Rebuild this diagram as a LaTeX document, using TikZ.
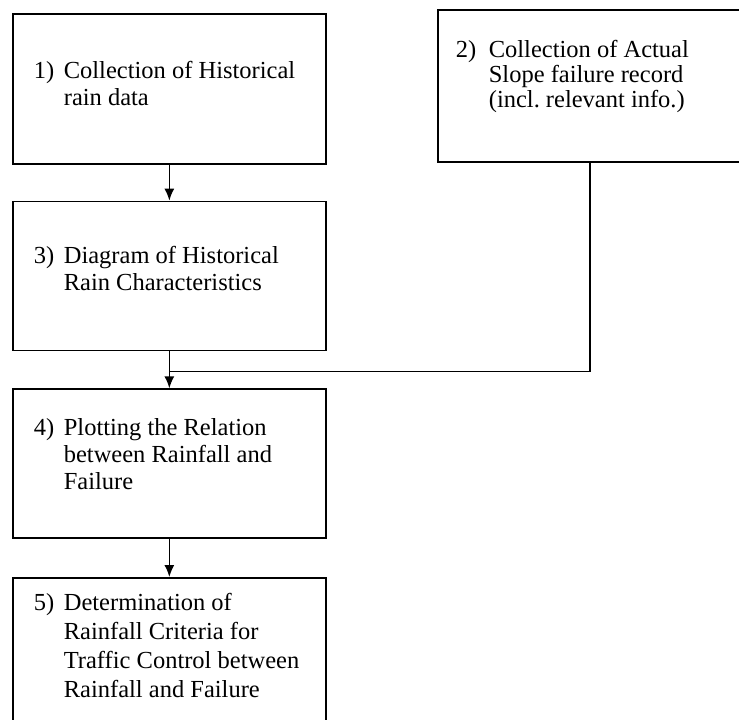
\documentclass[tikz,border=0pt]{standalone}
\usepackage{fontspec}
\setmainfont{Liberation Serif}
\usetikzlibrary{positioning,arrows.meta,calc}
\frenchspacing
\newcommand\steplabel[3][30pt]{\parbox[t]{290pt}{\hangindent=#1\hangafter=1\noindent\makebox[#1][l]{#2}#3}}

\begin{document}
\begin{tikzpicture}[x=1pt,y=-1pt,>={Latex[length=12pt,width=10pt]},line width=1.7pt,
  stepbox/.style={draw,rectangle,minimum width=313pt,minimum height=150pt,inner sep=0pt},
  steptext/.style={anchor=base west,inner sep=0pt,font=\fontsize{24.5}{27}\selectfont}]
\useasboundingbox (0,0) rectangle (739,720);
\clip (0,0) rectangle (739,720);
\node[stepbox,anchor=north west] (s1) at (12,13) {};
\node[stepbox,anchor=north west,minimum width=304pt,minimum height=152pt] (s2) at (437,9) {};
\node[stepbox,below=36pt of s1,minimum height=149pt] (s3) {};
\node[stepbox,below=37pt of s3,minimum height=149pt] (s4) {};
\node[stepbox,below=38pt of s4,minimum height=170pt] (s5) {};
% texts
\node[steptext] (t1) at ($(s1.north west)+(21,65)$) {\steplabel{1)}{Collection of Historical\\rain data}};
\node[steptext,font=\fontsize{24.5}{25}\selectfont] (t2) at ($(s2.north west)+(18,48)$)
  {\steplabel[33pt]{2)}{Collection of Actual\\Slope failure record\\(incl. relevant info.)}};
\node[steptext] (t3) at ($(s3.north west)+(21,63)$) {\steplabel{3)}{Diagram of Historical\\Rain Characteristics}};
\node[steptext] (t4) at ($(s4.north west)+(21,47)$) {\steplabel{4)}{Plotting the Relation\\between Rainfall and\\Failure}};
\node[steptext,font=\fontsize{24.5}{29}\selectfont] (t5) at ($(s5.north west)+(21,33)$)
  {\steplabel{5)}{Determination of\\Rainfall Criteria for\\Traffic Control between\\Rainfall and Failure}};
% connectors
\coordinate (join) at ($(s3.south)+(0,20)$);
\draw[->] (s1.south) -- (s3.north);
\draw (s2.south) |- (join);
\draw[->] (s3.south) -- (s4.north);
\draw[->] (s4.south) -- (s5.north);
\end{tikzpicture}
\end{document}
